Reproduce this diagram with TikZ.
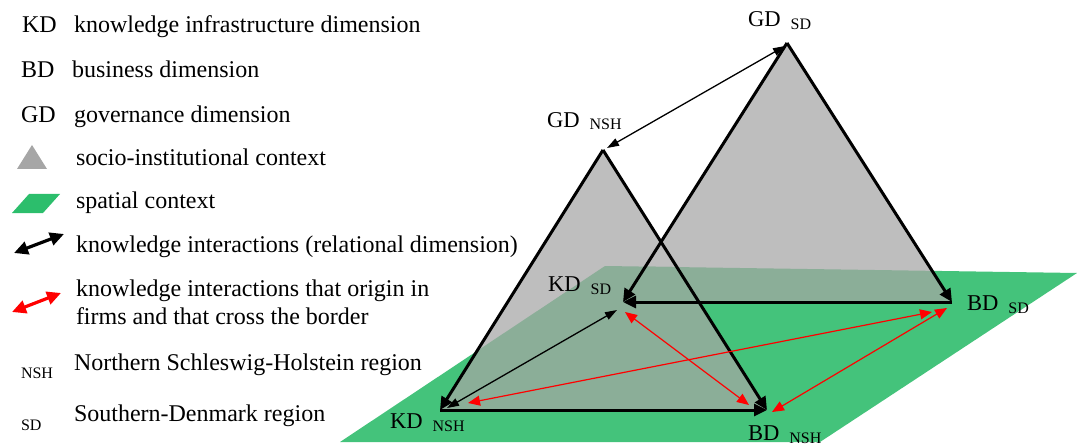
\documentclass[tikz,border=0pt]{standalone}
\usepackage{fontspec}
\setmainfont{Liberation Serif}
\usetikzlibrary{arrows.meta}
\definecolor{ctxgray}{HTML}{BEBEBE}
\definecolor{legendgray}{HTML}{A6A6A6}
\definecolor{planegreen}{HTML}{44C37B}
\definecolor{legendgreen}{HTML}{2CBE6C}
\definecolor{overlapgreen}{HTML}{8BAE98}
\newcommand{\dimlab}[2]{#1\hspace{5pt}\raisebox{-1.5pt}{\fontsize{8}{9.6}\selectfont #2}}

\begin{document}
\begin{tikzpicture}[
    x=0.5pt, y=-0.5pt,
    every node/.style={inner sep=0pt, outer sep=0pt},
    legtext/.style={anchor=base west, font=\fontsize{12}{14}\selectfont},
    legsub/.style={anchor=base west, font=\fontsize{8}{9.6}\selectfont},
    vlabel/.style={anchor=base west, font=\fontsize{11.3}{13.5}\selectfont},
    dimedge/.style={line width=1.5pt, -{Triangle[length=6.5pt,width=6pt]}},
    relarrow/.style={line width=0.65pt, {Triangle[length=6pt,width=4pt]}-{Triangle[length=6pt,width=4pt]}},
    crossarrow/.style={red, line width=0.6pt, {Triangle[length=6pt,width=5pt]}-{Triangle[length=6pt,width=5pt]}},
    legarrow/.style={line width=1.6pt, {Triangle[length=7pt,width=6.5pt]}-{Triangle[length=7pt,width=6.5pt]}}
]
\useasboundingbox (0,0) rectangle (1077,444);

% legend
\node[legtext] (kd) at (22,33) {KD};
\node[legtext] (kdtext) at (74,33) {knowledge infrastructure dimension};
\node[legtext] (bd) at (21,78) {BD};
\node[legtext] (bdtext) at (72,78) {business dimension};
\node[legtext] (gd) at (21,123) {GD};
\node[legtext] (gdtext) at (74,123) {governance dimension};
\fill[legendgray] (17,169) -- (47,169) -- (32,145) -- cycle;
\node[legtext] (ctxtext) at (76,166) {socio-institutional context};
\fill[legendgreen] (12,213) -- (43,213) -- (60,194) -- (29,194) -- cycle;
\node[legtext] (spacetext) at (76,208) {spatial context};
\coordinate (blackA) at (14,253);
\coordinate (blackB) at (64,234);
\draw[legarrow] (blackA) -- (blackB);
\node[legtext] (reltext) at (76,252) {knowledge interactions (relational dimension)};
\coordinate (redA) at (12,312);
\coordinate (redB) at (61,293);
\draw[legarrow, red] (redA) -- (redB);
\node[legtext] (crosstext) at (76,296) {knowledge interactions that origin in};
\node[legtext] (crosstextb) at (76,324) {firms and that cross the border};
\node[legsub] (nsh) at (21,378) {NSH};
\node[legtext] (nshtext) at (74,370) {Northern Schleswig-Holstein region};
\node[legsub] (sd) at (21,430) {SD};
\node[legtext] (sdtext) at (74,421) {Southern-Denmark region};

% vertices
\coordinate (gdsd) at (787,43);
\coordinate (kdsd) at (623,302);
\coordinate (bdsd) at (952,302);
\coordinate (gdnsh) at (603,150);
\coordinate (kdnsh) at (440,410);
\coordinate (bdnsh) at (767,410);
\coordinate (pa) at (340,442);
\coordinate (pb) at (820,442);
\coordinate (pc) at (1077,273);
\coordinate (pd) at (605,266);

% contexts
\fill[planegreen] (pa) -- (pb) -- (pc) -- (pd) -- cycle;
\fill[ctxgray] (gdsd) -- (kdsd) -- (bdsd) -- cycle;
\fill[ctxgray] (gdnsh) -- (kdnsh) -- (bdnsh) -- cycle;
\begin{scope}
  \clip (pa) -- (pb) -- (pc) -- (pd) -- cycle;
  \fill[overlapgreen] (gdsd) -- (kdsd) -- (bdsd) -- cycle;
  \fill[overlapgreen] (gdnsh) -- (kdnsh) -- (bdnsh) -- cycle;
\end{scope}

% dimensions
\draw[dimedge] (gdsd) -- (kdsd);
\draw[dimedge] (gdsd) -- (bdsd);
\draw[dimedge] (bdsd) -- (kdsd);
\draw[dimedge] (gdnsh) -- (kdnsh);
\draw[dimedge] (gdnsh) -- (bdnsh);
\draw[dimedge] (kdnsh) -- (bdnsh);

% interactions
\draw[relarrow] ([shift={(-2,3)}]gdsd) -- ([shift={(4,-2)}]gdnsh);
\draw[relarrow] ([shift={(7,-2)}]kdnsh) -- ([shift={(-6,8)}]kdsd);
\draw[crossarrow] ([shift={(2,10)}]kdsd) -- ([shift={(-18,-5)}]bdnsh);
\draw[crossarrow] ([shift={(28,-7)}]kdnsh) -- ([shift={(-20,10)}]bdsd);
\draw[crossarrow] ([shift={(5,2)}]bdnsh) -- ([shift={(-5,6)}]bdsd);

% labels
\node[vlabel] (gdsdlab) at (748,27) {\dimlab{GD}{SD}};
\node[vlabel] (gdnshlab) at (547,127) {\dimlab{GD}{NSH}};
\node[vlabel] (kdsdlab) at (548,292) {\dimlab{KD}{SD}};
\node[vlabel] (bdsdlab) at (967,310) {\dimlab{BD}{SD}};
\node[vlabel] (kdnshlab) at (390,428) {\dimlab{KD}{NSH}};
\node[vlabel] (bdnshlab) at (748,440) {\dimlab{BD}{NSH}};
\end{tikzpicture}
\end{document}
